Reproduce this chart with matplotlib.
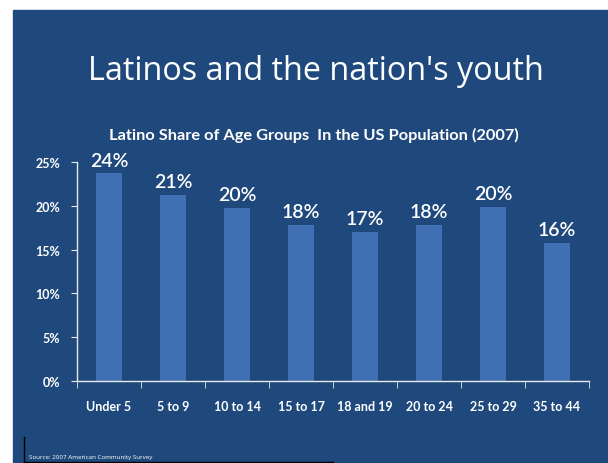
import matplotlib
matplotlib.use("Agg")
import matplotlib.pyplot as plt
from matplotlib.patches import Rectangle
from matplotlib.lines import Line2D
from matplotlib.ticker import PercentFormatter

# Latino share of each age group, US population 2007
age_groups = ["Under 5", "5 to 9", "10 to 14", "15 to 17", "18 and 19",
              "20 to 24", "25 to 29", "35 to 44"]
latino_share = [23.7, 21.2, 19.8, 17.8, 17.0, 17.8, 19.9, 15.8]
share_labels = ["24%", "21%", "20%", "18%", "17%", "18%", "20%", "16%"]

slide_blue = "#1f497d"
bar_blue = "#4070b3"

fig = plt.figure(figsize=(6.08, 4.64), dpi=100, facecolor="white")

# slide background
fig.patches.append(Rectangle((13 / 608, 0), 594 / 608, 453 / 464,
                             transform=fig.transFigure, color=slide_blue, zorder=-1))

fig.text(0.52, 0.845, "Latinos and the nation's youth", color="white",
         fontsize=23.3, family="Open Sans", ha="center", va="center")

# chart title sits a little left of the plot area's centre
fig.text(314 / 608, 1 - 135 / 464,
         "Latino Share of Age Groups  In the US Population (2007)",
         color="white", fontsize=11.8, family="Lato", fontweight="bold",
         ha="center", va="center")

ax = fig.add_axes([77 / 608, 1 - 382 / 464, 512 / 608, 219 / 464])
ax.set_facecolor(slide_blue)
x = range(len(age_groups))
ax.bar(x, latino_share, width=0.41, color=bar_blue)
ax.set_xlim(-0.5, len(age_groups) - 0.5)
ax.set_ylim(0, 25)

for i, (v, lab) in enumerate(zip(latino_share, share_labels)):
    ax.text(i, v + 0.55, lab, color="white", fontsize=14, family="Lato",
            fontweight="semibold", ha="center", va="bottom", clip_on=False)

for side in ["top", "right"]:
    ax.spines[side].set_visible(False)
for side in ["left", "bottom"]:
    ax.spines[side].set_color("#e8e8e8")
    ax.spines[side].set_linewidth(1)

ax.set_yticks([0, 5, 10, 15, 20, 25])
ax.yaxis.set_major_formatter(PercentFormatter(decimals=0))
ax.set_xticks(x)
ax.set_xticklabels(age_groups)
ax.set_xticks([i - 0.5 for i in range(len(age_groups) + 1)], minor=True)
ax.tick_params(axis="x", which="major", length=0, pad=14)
ax.tick_params(axis="x", which="minor", length=5, color="#e8e8e8", direction="out")
ax.tick_params(axis="y", length=4, color="#e8e8e8", pad=8)
for lab in ax.get_xticklabels() + ax.get_yticklabels():
    lab.set_color("white")
    lab.set_family("Lato")
    lab.set_fontweight("bold")
    lab.set_fontsize(9)

fig.text(29 / 608, 1 - 458 / 464, "Source: 2007 American Community Survey",
         color="white", fontsize=4.5, family="Open Sans", va="center")
fig.lines.append(Line2D([24 / 608, 24 / 608], [1 - 438 / 464, 1 - 463 / 464],
                        transform=fig.transFigure, color="black", lw=1))
fig.lines.append(Line2D([24 / 608, 333 / 608], [1 - 463 / 464, 1 - 463 / 464],
                        transform=fig.transFigure, color="black", lw=1))

fig.savefig("out.png", dpi=100, facecolor="white")
